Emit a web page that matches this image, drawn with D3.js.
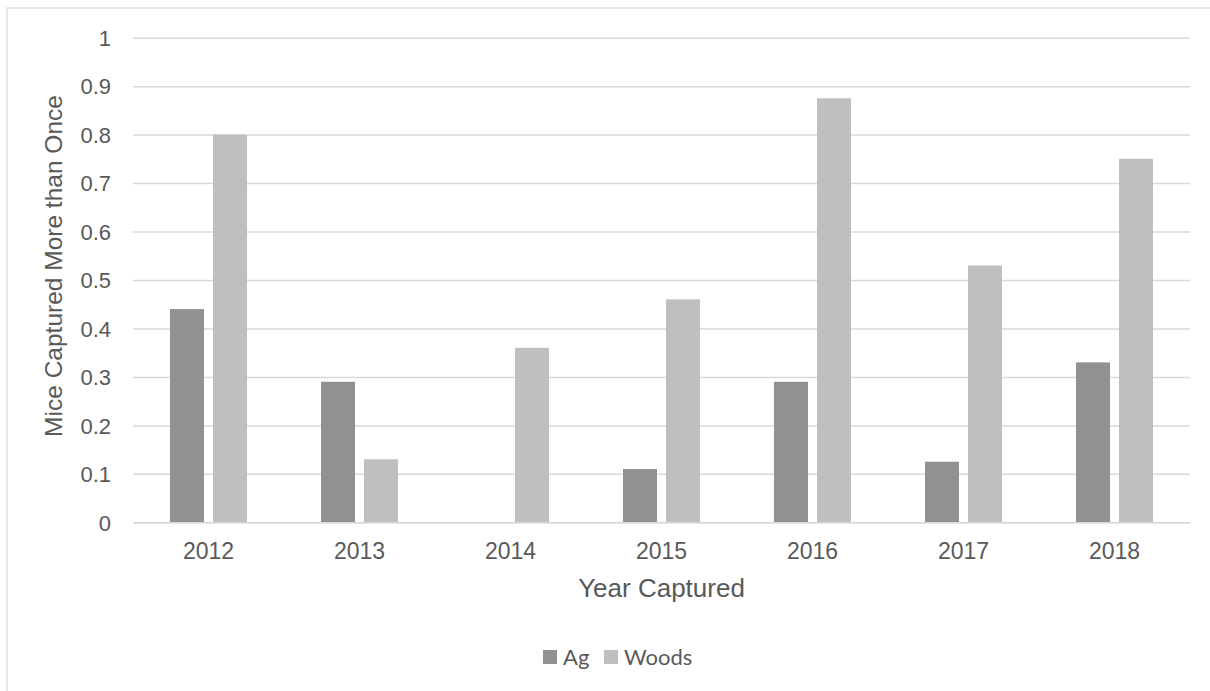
<!DOCTYPE html>
<html>
<head>
<meta charset="utf-8">
<script src="https://cdn.jsdelivr.net/npm/d3@7"></script>
<style>
  html, body { margin: 0; padding: 0; background: #ffffff; }
  svg { display: block; }
</style>
</head>
<body>
<svg id="chart" width="1210" height="691"></svg>
<script>
// Share of mice captured more than once, by year and habitat
const years = ["2012", "2013", "2014", "2015", "2016", "2017", "2018"];
const seriesNames = ["Ag", "Woods"];
const agValues = [0.44, 0.29, 0, 0.11, 0.29, 0.125, 0.33];
const woodsValues = [0.80, 0.13, 0.36, 0.46, 0.875, 0.53, 0.75];
const yTicks = [0, 0.1, 0.2, 0.3, 0.4, 0.5, 0.6, 0.7, 0.8, 0.9, 1];
const seriesColors = ["#919191", "#bfbfbf"];

const svg = d3.select("#chart");
const textColor = "#595959";
const gridColor = "#d9d9d9";

// chart frame
svg.append("rect")
  .attr("x", 7).attr("y", 8)
  .attr("width", 1220).attr("height", 700)
  .attr("fill", "none")
  .attr("stroke", gridColor)
  .attr("stroke-width", 1.3);

const plot = { left: 133, right: 1190, top: 37.7, bottom: 522.3 };

const x0 = d3.scaleBand()
  .domain(years)
  .range([plot.left, plot.right])
  .padding(0);

const x1 = d3.scaleBand()
  .domain(seriesNames)
  .range([0, x0.bandwidth()])
  .paddingInner(0.209)
  .paddingOuter(0.86);

const y = d3.scaleLinear()
  .domain([0, 1])
  .range([plot.bottom, plot.top]);

// horizontal gridlines + y tick labels
const yAxis = d3.axisLeft(y)
  .tickValues(yTicks)
  .tickSize(-(plot.right - plot.left))
  .tickPadding(22)
  .tickFormat(d => d3.format("")(+d.toFixed(1)));

const gy = svg.append("g")
  .attr("transform", `translate(${plot.left},0)`)
  .call(yAxis);
gy.select(".domain").remove();
gy.selectAll(".tick line")
  .attr("stroke", gridColor)
  .attr("stroke-width", 1.5);
gy.selectAll(".tick text")
  .attr("fill", textColor)
  .attr("font-family", "'Liberation Sans', Arial, sans-serif")
  .attr("font-size", 22)
  .attr("dy", "0.35em");

// bars
const rows = years.map((yr, i) => ({ year: yr, values: [agValues[i], woodsValues[i]] }));

const groups = svg.append("g")
  .selectAll("g")
  .data(rows)
  .join("g")
  .attr("transform", d => `translate(${x0(d.year)},0)`);

groups.selectAll("rect")
  .data(d => seriesNames.map((s, k) => ({ series: s, value: d.values[k], k })))
  .join("rect")
  .attr("x", d => x1(d.series))
  .attr("width", x1.bandwidth())
  .attr("y", d => y(d.value))
  .attr("height", d => y(0) - y(d.value))
  .attr("fill", d => seriesColors[d.k]);

// category axis
const xAxis = d3.axisBottom(x0).tickSize(0).tickPadding(20);
const gx = svg.append("g")
  .attr("transform", `translate(0,${plot.bottom})`)
  .call(xAxis);
gx.select(".domain")
  .attr("stroke", gridColor)
  .attr("stroke-width", 1.5);
gx.selectAll(".tick text")
  .attr("fill", textColor)
  .attr("font-family", "'Liberation Sans', Arial, sans-serif")
  .attr("font-size", 23)
  .attr("dy", "0.71em");

// axis titles
svg.append("text")
  .attr("x", (plot.left + plot.right) / 2)
  .attr("y", 597)
  .attr("text-anchor", "middle")
  .attr("fill", textColor)
  .attr("font-family", "'Liberation Sans', Arial, sans-serif")
  .attr("font-size", 26)
  .text("Year Captured");

svg.append("text")
  .attr("transform", "translate(62,266) rotate(-90)")
  .attr("text-anchor", "middle")
  .attr("fill", textColor)
  .attr("font-family", "'Liberation Sans', Arial, sans-serif")
  .attr("font-size", 24.5)
  .text("Mice Captured More than Once");

// legend
const legend = svg.append("g").attr("transform", "translate(543,650)");
const legendOffsets = [0, 61];
seriesNames.forEach((name, k) => {
  const g = legend.append("g").attr("transform", `translate(${legendOffsets[k]},0)`);
  g.append("rect")
    .attr("width", 14).attr("height", 14)
    .attr("fill", seriesColors[k]);
  g.append("text")
    .attr("x", 20).attr("y", 15)
    .attr("fill", textColor)
    .attr("font-family", "Lato, 'Open Sans', sans-serif")
    .attr("font-size", 22)
    .text(name);
});
</script>
</body>
</html>
